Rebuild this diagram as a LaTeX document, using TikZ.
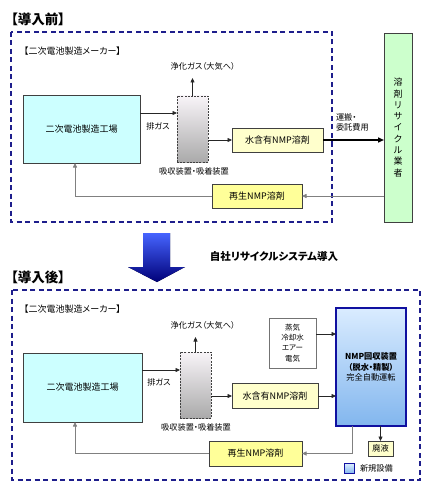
\documentclass[tikz,border=0pt]{standalone}
\usepackage{fontspec}
\setmainfont[RawFeature=+palt]{Noto Sans CJK JP}
\usetikzlibrary{arrows.meta}
\definecolor{navy}{RGB}{30,30,140}
\definecolor{cyanfill}{RGB}{204,255,255}
\definecolor{paleyel}{RGB}{255,255,204}
\definecolor{yel}{RGB}{255,255,153}
\definecolor{palegreen}{RGB}{204,255,204}
\definecolor{nmpborder}{RGB}{16,16,160}
\definecolor{nmptop}{RGB}{218,236,255}
\definecolor{nmpbot}{RGB}{130,182,238}
\definecolor{arrtop}{RGB}{70,100,255}
\definecolor{arrbot}{RGB}{0,0,120}
\definecolor{abstop}{RGB}{248,244,248}
\definecolor{absbot}{RGB}{170,170,170}
\begin{document}
\begin{tikzpicture}[x=1pt,y=-1pt,
  every node/.style={inner sep=0pt,outer sep=0pt,font=\fontsize{9}{11}\selectfont},
  frame/.style={draw=navy,line width=1.2pt,dash pattern=on 5pt off 3.5pt},
  boxst/.style={draw=black!75,line width=0.6pt,align=center},
  absst/.style={draw=black!75,line width=0.6pt,dash pattern=on 2pt off 1.2pt,top color=abstop,bottom color=absbot},
  nmpst/.style={draw=nmpborder,line width=2pt,top color=nmptop,bottom color=nmpbot,align=center},
  arr/.style={-{Triangle[length=4.5pt,width=4pt]},line width=0.7pt,draw=black!85},
  ret/.style={-{Triangle[length=4.5pt,width=4pt]},line width=0.8pt,draw=black!50},
  bigarr/.style={-{Triangle[length=6pt,width=5pt]},line width=1.5pt,draw=black},
  title/.style={font=\fontsize{13.5}{15}\selectfont\bfseries},
  small/.style={font=\fontsize{8.2}{10}\selectfont}
]
\useasboundingbox (0,0) rectangle (431,489);

% ================= before =================
\node[title] (t1) at (38,19) {【導入前】};
\draw[frame] (11,32) rectangle (332,222);
\node[anchor=west] (mk1) at (24,51) {【二次電池製造メーカー】};

\node[boxst,fill=cyanfill,minimum width=117pt,minimum height=68pt] (fac1) at (81.5,129) {二次電池製造工場};
\node[absst,minimum width=31pt,minimum height=66pt] (abs1) at (192.5,129) {};
\node[small] (gas1) at (203,66) {浄化ガス（大気へ）};
\coordinate (gasend1) at (192.5,78);
\draw[arr] (abs1.north) -- (gasend1);
\draw[arr] (fac1.east |- 0,113) -- (abs1.west |- 0,113);
\node[small] (ex1) at (158,126) {排ガス};
\node[small] (abl1) at (194,171) {吸収装置・吸着装置};

\node[boxst,fill=paleyel,minimum width=91pt,minimum height=24pt] (w1) at (277.5,140) {水含有NMP溶剤};
\draw[arr] (abs1.east |- w1.west) -- (w1.west);

\node[boxst,fill=palegreen,minimum width=28pt,minimum height=189pt,font=\fontsize{9}{11.3}\selectfont] (rec1) at (398,127.5) {溶\\剤\\リ\\サ\\イ\\ク\\ル\\業\\者};
\draw[bigarr] (w1.east) -- (rec1.west |- w1.east);
\node[small,anchor=west,align=left] (cost1) at (336,122) {運搬・\\委託費用};

\node[boxst,fill=yel,minimum width=90pt,minimum height=24pt] (rg1) at (257,196) {再生NMP溶剤};
\draw[ret] (rec1.west |- rg1.east) -- (rg1.east);
\coordinate (c1) at (75,196);
\draw[ret] (rg1.west) -- (c1) -- (c1 |- fac1.south);

% ================= arrow between =================
\fill[top color=arrtop,bottom color=arrbot] (143,233) -- (170,233) -- (170,267) -- (185,267) -- (157,282) -- (128,267) -- (143,267) -- cycle;
\node[font=\fontsize{10.5}{12}\selectfont\bfseries] (intro) at (274,256) {自社リサイクルシステム導入};

% ================= after =================
\node[title] (t2) at (38,277) {【導入後】};
\draw[frame] (12,290) rectangle (420,480);
\node[anchor=west] (mk2) at (24,309) {【二次電池製造メーカー】};

\node[boxst,fill=cyanfill,minimum width=119pt,minimum height=69pt] (fac2) at (82.5,387.5) {二次電池製造工場};
\node[absst,minimum width=31pt,minimum height=66pt] (abs2) at (195.5,385) {};
\node[small] (gas2) at (203,325) {浄化ガス（大気へ）};
\coordinate (gasend2) at (195.5,337);
\draw[arr] (abs2.north) -- (gasend2);
\draw[arr] (fac2.east |- 0,370) -- (abs2.west |- 0,370);
\node[small] (ex2) at (159,382) {排ガス};
\node[small] (abl2) at (196,427) {吸収装置・吸着装置};

\node[boxst,fill=paleyel,minimum width=86pt,minimum height=25pt] (w2) at (275,396) {水含有NMP溶剤};
\draw[arr] (abs2.east |- w2.west) -- (w2.west);

\node[boxst,draw=black!55,fill=white,minimum width=47pt,minimum height=50pt,font=\fontsize{7.5}{10.3}\selectfont] (ut) at (292.5,343) {蒸気\\冷却水\\エアー\\電気};

\node[nmpst,minimum width=70pt,minimum height=118pt,font=\fontsize{8.2}{10.5}\selectfont] (nmp) at (371,367) {\textbf{NMP回収装置}\\\textbf{（脱水・精製）}\\完全自動運転};
\draw[arr] (ut.east |- 0,334) -- (nmp.west |- 0,334);
\draw[arr] (w2.east) -- (nmp.west |- w2.east);

\node[boxst,fill=paleyel,minimum width=25pt,minimum height=15pt,small] (waste) at (380.5,448.5) {廃液};
\draw[arr] (waste.north |- nmp.south) -- (waste.north);

\node[boxst,fill=yel,minimum width=93pt,minimum height=25pt] (rg2) at (255.5,453.5) {再生NMP溶剤};
\coordinate (c2) at (352,453.5);
\draw[ret] (c2 |- nmp.south) -- (c2) -- (rg2.east);
\coordinate (c3) at (75,453.5);
\draw[ret] (rg2.west) -- (c3) -- (c3 |- fac2.south);

\node[draw=nmpborder,line width=1.5pt,top color=nmptop,bottom color=nmpbot,minimum width=10pt,minimum height=10pt] (leg) at (349.5,468.5) {};
\node[small,anchor=west] (legt) at (360,468.5) {新規設備};
\end{tikzpicture}
\end{document}
